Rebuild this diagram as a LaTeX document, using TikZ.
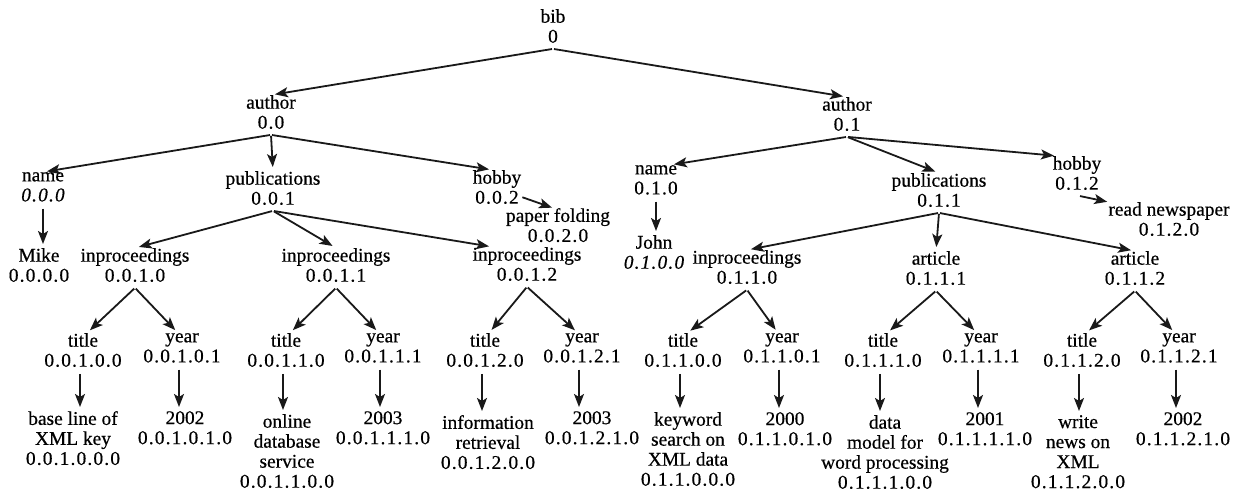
\documentclass[tikz,border=0pt]{standalone}
\usepackage{fontspec}
\setmainfont[FakeBold=0.5]{Liberation Serif}
\newfontfamily\numfont[LetterSpace=6,FakeBold=0.5]{Liberation Serif}
\usetikzlibrary{arrows.meta}
\newcommand{\nm}[1]{{\numfont #1}}
\newcommand{\nmi}[1]{{\numfont\itshape #1}}

\begin{document}
\begin{tikzpicture}[x=1pt,y=-1pt,
  lab/.style={align=center, inner sep=0pt, anchor=north,
    font=\fontsize{19.4}{20}\selectfont,
    execute at begin node=\strut, execute at end node=\strut},
  arr/.style={line width=1.8pt, draw=black!90,
    -{Stealth[length=13pt,width=10pt,inset=3pt]},
    shorten <=1pt, shorten >=4pt},
  short/.style={arr, shorten >=1pt}]
\useasboundingbox[fill=white] (0,0) rectangle (1248,502);

% level 0-2
\node[lab] (bib)  at (553,9)   {bib\\ \nm{0}};
\node[lab] (a00)  at (271,95)  {author\\ \nm{0.0}};
\node[lab] (a01)  at (847,97)  {author\\ \nm{0.1}};
\node[lab] (n000) at (43,172)  {name\\ \nmi{0.0.0}};
\node[lab] (p001) at (273,171) {publications\\ \nm{0.0.1}};
\node[lab] (h002) at (497,170) {hobby\\ \nm{0.0.2}};
\node[lab] (pf)   at (558,208) {paper folding\\ \nm{0.0.2.0}};
\node[lab] (n010) at (656,165) {name\\ \nm{0.1.0}};
\node[lab] (john) at (654,235) {John\\ \nmi{0.1.0.0}};
\node[lab] (p011) at (939,173) {publications\\ \nm{0.1.1}};
\node[lab] (h012) at (1077,156) {hobby\\ \nm{0.1.2}};
\node[lab] (rn)   at (1169,202) {read newspaper\\ \nm{0.1.2.0}};

% level 3
\node[lab] (mike)  at (39,248)  {Mike\\ \nm{0.0.0.0}};
\node[lab] (i0010) at (135,248) {inproceedings\\ \nm{0.0.1.0}};
\node[lab] (i0011) at (336,248) {inproceedings\\ \nm{0.0.1.1}};
\node[lab] (i0012) at (527,247) {inproceedings\\ \nm{0.0.1.2}};
\node[lab] (i0110) at (747,250) {inproceedings\\ \nm{0.1.1.0}};
\node[lab] (a0111) at (936,251) {article\\ \nm{0.1.1.1}};
\node[lab] (a0112) at (1135,251) {article\\ \nm{0.1.1.2}};

% level 4
\node[lab] (t00100) at (83,333)   {title\\ \nm{0.0.1.0.0}};
\node[lab] (y00101) at (182,333)  {year\\ \nm{0.0.1.0.1}};
\node[lab] (t00110) at (286,333)  {title\\ \nm{0.0.1.1.0}};
\node[lab] (y00111) at (383,333)  {year\\ \nm{0.0.1.1.1}};
\node[lab] (t00120) at (485,333)  {title\\ \nm{0.0.1.2.0}};
\node[lab] (y00121) at (582,333)  {year\\ \nm{0.0.1.2.1}};
\node[lab] (t01100) at (683,333)  {title\\ \nm{0.1.1.0.0}};
\node[lab] (y01101) at (782,333)  {year\\ \nm{0.1.1.0.1}};
\node[lab] (t01110) at (883,333)  {title\\ \nm{0.1.1.1.0}};
\node[lab] (y01111) at (981,333)  {year\\ \nm{0.1.1.1.1}};
\node[lab] (t01120) at (1082,333) {title\\ \nm{0.1.1.2.0}};
\node[lab] (y01121) at (1179,333) {year\\ \nm{0.1.1.2.1}};

% level 5
\node[lab] (l001000) at (73,411)   {base line of\\ XML key\\ \nm{0.0.1.0.0.0}};
\node[lab] (l001010) at (185,411)  {2002\\ \nm{0.0.1.0.1.0}};
\node[lab] (l001100) at (287,414)  {online\\ database\\ service\\ \nm{0.0.1.1.0.0}};
\node[lab] (l001110) at (383,411)  {2003\\ \nm{0.0.1.1.1.0}};
\node[lab] (l001200) at (488,415)  {information\\ retrieval\\ \nm{0.0.1.2.0.0}};
\node[lab] (l001210) at (592,411)  {2003\\ \nm{0.0.1.2.1.0}};
\node[lab] (l011000) at (688,412)  {keyword\\ search on\\ XML data\\ \nm{0.1.1.0.0.0}};
\node[lab] (l011010) at (785,412)  {2000\\ \nm{0.1.1.0.1.0}};
\node[lab] (l011100) at (885,415)  {data\\ model for\\ word processing\\ \nm{0.1.1.1.0.0}};
\node[lab] (l011110) at (985,412)  {2001\\ \nm{0.1.1.1.1.0}};
\node[lab] (l011200) at (1078,415) {write\\ news on\\ XML\\ \nm{0.1.1.2.0.0}};
\node[lab] (l011210) at (1183,412) {2002\\ \nm{0.1.1.2.1.0}};

% connectors
\draw[arr] (bib.south) -- (a00.north);
\draw[arr] (bib.south) -- (a01.north);
\draw[arr] (a00.south) -- (n000.north);
\draw[arr] (a00.south) -- (p001.north);
\draw[arr] (a00.south) -- ([xshift=-4pt]h002.north);
\draw[short] ([yshift=-7pt]h002.east) -- ([xshift=-5pt]pf.north);
\draw[arr] (n000.south) -- (n000.south |- mike.north);
\draw[arr] (p001.south) -- (i0010.north);
\draw[arr] (p001.south) -- (i0011.north);
\draw[arr] (p001.south) -- ([xshift=-34pt]i0012.north);
\draw[arr] (a01.south) -- ([xshift=14pt]n010.north);
\draw[arr] (a01.south) -- (p011.north);
\draw[arr] (a01.south) -- ([xshift=-19pt]h012.north);
\draw[arr] (n010.south) -- (n010.south |- john.north);
\draw[short] ([xshift=2pt]h012.south) -- (rn.north west);
\draw[arr] (p011.south) -- (i0110.north);
\draw[arr] (p011.south) -- (a0111.north);
\draw[arr] (p011.south) -- (a0112.north);

\foreach \p/\t/\y in {i0010/t00100/y00101, i0011/t00110/y00111,
    i0012/t00120/y00121, i0110/t01100/y01101,
    a0111/t01110/y01111, a0112/t01120/y01121} {
  \draw[arr] (\p.south) -- ([xshift=4pt]\t.north);
  \draw[arr] (\p.south) -- ([xshift=-4pt]\y.north);
}

\foreach \a/\b in {t00100/l001000, y00101/l001010, t00110/l001100,
    y00111/l001110, t00120/l001200, y00121/l001210, t01100/l011000,
    y01101/l011010, t01110/l011100, y01111/l011110, t01120/l011200,
    y01121/l011210} {
  \draw[arr] ([xshift=-3pt]\a.south) -- ([xshift=-3pt]\a.south |- \b.north);
}
\end{tikzpicture}
\end{document}
